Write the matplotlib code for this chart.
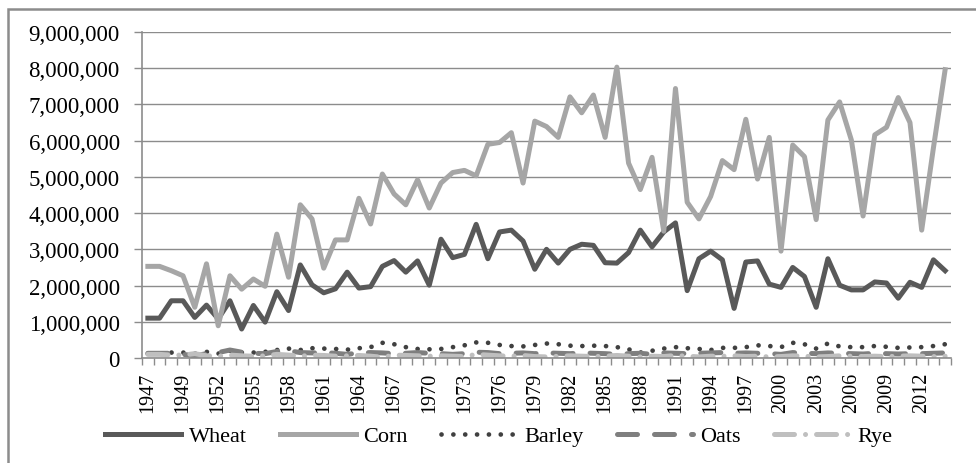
import numpy as np
import matplotlib
matplotlib.use("Agg")
import matplotlib.pyplot as plt
from matplotlib.ticker import FuncFormatter, MultipleLocator
from matplotlib.patches import Rectangle

# ------------------------------------------------------------------
# Datos (millones de bushels aprox.), una categoria por año
# ------------------------------------------------------------------
n_years = 69
tick_labels = ["1947", "1949", "1952", "1955", "1958", "1961", "1964", "1967",
               "1970", "1973", "1976", "1979", "1982", "1985", "1988", "1991",
               "1994", "1997", "2000", "2003", "2006", "2009", "2012"]

wheat = [1.10, 1.10, 1.58, 1.58, 1.12, 1.46, 1.08, 1.58, 0.80, 1.45, 0.99, 1.83,
         1.31, 2.57, 2.02, 1.80, 1.91, 2.37, 1.93, 1.97, 2.53, 2.69, 2.37,
         2.68, 2.01, 3.28, 2.77, 2.86, 3.69, 2.74, 3.48, 3.53, 3.23, 2.45, 3.00,
         2.62, 3.00, 3.14, 3.11, 2.63, 2.62, 2.91, 3.53, 3.07, 3.48, 3.73,
         1.86, 2.74, 2.95, 2.71, 1.37, 2.65, 2.68, 2.04, 1.95, 2.50, 2.25, 1.40,
         2.74, 2.01, 1.88, 1.88, 2.10, 2.07, 1.65, 2.09, 1.95, 2.71, 2.41]

corn = [2.53, 2.53, 2.41, 2.27, 1.40, 2.60, 0.89, 2.27, 1.90, 2.18, 1.98, 3.42,
        2.23, 4.23, 3.84, 2.48, 3.26, 3.26, 4.41, 3.70, 5.08, 4.53, 4.23,
        4.92, 4.14, 4.83, 5.12, 5.18, 5.03, 5.90, 5.95, 6.22, 4.83, 6.54, 6.39,
        6.09, 7.21, 6.77, 7.26, 6.09, 8.03, 5.38, 4.65, 5.54, 3.50, 7.44,
        4.30, 3.84, 4.46, 5.45, 5.20, 6.59, 4.94, 6.09, 2.95, 5.88, 5.56, 3.82,
        6.57, 7.07, 6.02, 3.92, 6.16, 6.37, 7.19, 6.50, 3.53, 5.80, 7.96]

barley = [0.12, 0.12, 0.15, 0.15, 0.12, 0.17, 0.12, 0.20, 0.15, 0.15,
          0.17, 0.22, 0.26, 0.22, 0.27, 0.26, 0.25, 0.23, 0.27, 0.30,
          0.42, 0.38, 0.30, 0.25, 0.24, 0.25, 0.30, 0.35, 0.43, 0.42,
          0.36, 0.33, 0.32, 0.36, 0.40, 0.38, 0.34, 0.33, 0.34, 0.33,
          0.30, 0.24, 0.15, 0.20, 0.26, 0.30, 0.27, 0.25, 0.22, 0.28,
          0.28, 0.30, 0.35, 0.33, 0.30, 0.42, 0.38, 0.26, 0.40, 0.32,
          0.30, 0.30, 0.33, 0.31, 0.28, 0.29, 0.30, 0.33, 0.38]

oats = [0.13, 0.13, 0.13, 0.10, 0.06, 0.12, 0.15, 0.22, 0.16, 0.13,
        0.12, 0.18, 0.20, 0.15, 0.14, 0.15, 0.13, 0.10, 0.14, 0.15,
        0.14, 0.12, 0.13, 0.15, 0.13, 0.12, 0.10, 0.12, 0.16, 0.15,
        0.12, 0.13, 0.14, 0.12, 0.14, 0.13, 0.12, 0.14, 0.13, 0.12,
        0.10, 0.12, 0.13, 0.10, 0.14, 0.13, 0.12, 0.13, 0.14, 0.15,
        0.13, 0.14, 0.13, 0.12, 0.10, 0.15, 0.13, 0.12, 0.14, 0.13,
        0.12, 0.11, 0.13, 0.12, 0.11, 0.12, 0.12, 0.13, 0.14]

rye = [0.10, 0.10, 0.08, 0.08, 0.12, 0.06, 0.05, 0.08, 0.06, 0.05,
       0.06, 0.10, 0.08, 0.05, 0.08, 0.07, 0.05, 0.06, 0.07, 0.05,
       0.02, 0.08, 0.07, 0.06, 0.05, 0.06, 0.05, 0.04, 0.10, 0.08,
       0.06, 0.05, 0.07, 0.04, 0.03, 0.05, 0.06, 0.05, 0.04, 0.05,
       0.07, 0.05, 0.03, 0.05, 0.04, 0.07, 0.05, 0.03, 0.05, 0.05,
       0.06, 0.04, 0.05, 0.03, 0.04, 0.06, 0.05, 0.03, 0.04, 0.06,
       0.05, 0.04, 0.05, 0.04, 0.05, 0.06, 0.05, 0.04, 0.05]

plt.rcParams['font.family'] = ['Liberation Serif', 'DejaVu Serif']

W, H = 976, 464
fig = plt.figure(figsize=(W / 100, H / 100), dpi=100)

# borde del area del grafico (estilo Excel)
fig.patches.append(Rectangle((8 / W, -0.1), 1.2, (H - 10) / H + 0.1,
                             transform=fig.transFigure, fill=False,
                             edgecolor='#8c8c8c', linewidth=1.8))

ax = fig.add_axes([142 / W, 105 / H, (951 - 142) / W, (359 - 33) / H])

x = np.arange(n_years)
escala = 1e6
ax.plot(x, np.array(wheat) * escala, color='#595959', linewidth=3.6,
        solid_joinstyle='round', label='Wheat')
ax.plot(x, np.array(corn) * escala, color='#a6a6a6', linewidth=3.6,
        solid_joinstyle='round', label='Corn')
ax.plot(x, np.array(barley) * escala, color='#404040', linewidth=3.4,
        linestyle=(0, (0.01, 2.5)), dash_capstyle='round', label='Barley')
ax.plot(x, np.array(oats) * escala, color='#7f7f7f', linewidth=3.6,
        linestyle=(0, (4.0, 3.4)), dash_capstyle='round', label='Oats')
ax.plot(x, np.array(rye) * escala, color='#bfbfbf', linewidth=3.6,
        linestyle=(0, (4.0, 2.2, 0.01, 2.2)), dash_capstyle='round', label='Rye')

ax.set_xlim(-0.5, n_years - 0.5)
ax.set_ylim(0, 9e6)
ax.yaxis.set_major_locator(MultipleLocator(1e6))
ax.yaxis.set_major_formatter(FuncFormatter(lambda v, p: f"{int(v):,}"))
ax.grid(axis='y', color='#8c8c8c', linewidth=1.0)
ax.set_axisbelow(True)

ax.set_xticks(np.arange(0, n_years, 3))
ax.set_xticklabels(tick_labels, rotation=90)
ax.set_xticks(np.arange(-0.5, n_years, 1), minor=True)
ax.tick_params(axis='x', which='major', length=0, pad=10, labelsize=14.5)
ax.tick_params(axis='x', which='minor', length=5, width=1.0, color='#8c8c8c')
ax.tick_params(axis='y', length=6, width=1.0, color='#8c8c8c', pad=10, labelsize=16.5)

for lado in ['top', 'right']:
    ax.spines[lado].set_visible(False)
for lado in ['left', 'bottom']:
    ax.spines[lado].set_color('#8c8c8c')
    ax.spines[lado].set_linewidth(1.2)

fig.legend(loc='center', bbox_to_anchor=(499 / W, 27 / H), ncol=5, frameon=False,
           fontsize=16, handlelength=3.4, handletextpad=0.35, columnspacing=1.5)

fig.savefig('out.png', dpi=100)
